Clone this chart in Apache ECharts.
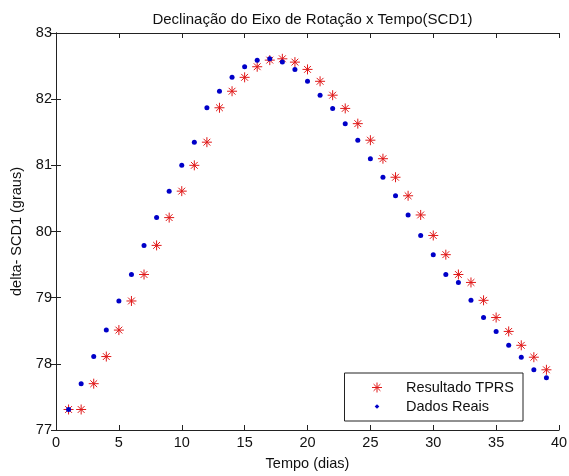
<!DOCTYPE html>
<html>
<head>
<meta charset="utf-8">
<script src="https://cdn.jsdelivr.net/npm/echarts@6/dist/echarts.min.js"></script>
<style>html,body{margin:0;padding:0;background:#fff}#c{width:569px;height:476px}</style>
</head>
<body>
<div id="c"></div>
<script>
var days = [1,2,3,4,5,6,7,8,9,10,11,12,13,14,15,16,17,18,19,20,21,22,23,24,25,26,27,28,29,30,31,32,33,34,35,36,37,38,39];
var dadosReais = [77.31,77.70,78.11,78.51,78.95,79.35,79.79,80.21,80.61,81.00,81.35,81.87,82.12,82.33,82.49,82.59,82.61,82.56,82.45,82.27,82.06,81.86,81.63,81.38,81.10,80.82,80.54,80.25,79.94,79.65,79.35,79.23,78.96,78.70,78.49,78.28,78.10,77.91,77.79];
var resultadoTPRS = [77.31,77.31,77.70,78.11,78.51,78.95,79.35,79.79,80.21,80.61,81.00,81.35,81.87,82.12,82.33,82.49,82.59,82.61,82.56,82.45,82.27,82.06,81.86,81.63,81.38,81.10,80.82,80.54,80.25,79.94,79.65,79.35,79.23,78.96,78.70,78.49,78.28,78.10,77.91];
var xTicks = [0,5,10,15,20,25,30,35,40];
var yTicks = [77,78,79,80,81,82,83];

function pairs(xs, ys){ return xs.map(function(x,i){ return [x, ys[i]]; }); }

var starPath = 'path://M5,0 L5,10 M0,5 L10,5 M1.6,1.6 L8.4,8.4 M1.6,8.4 L8.4,1.6';
var dotIcon = 'path://M0,0 M10,10 M5,2.7 L7.3,5 L5,7.3 L2.7,5 Z';
var font = 'Liberation Sans, Arial, sans-serif';
var fs = 14.5;
var chart = echarts.init(document.getElementById('c'), null, {renderer:'canvas'});
var axisCommon = {
  axisLine:{show:true, lineStyle:{color:'#222', width:1}},
  axisTick:{show:true, inside:true, length:5, lineStyle:{color:'#222'}},
  splitLine:{show:false}
};
chart.setOption({
  backgroundColor:'#fff',
  animation:false,
  title:{text:'Declinação do Eixo de Rotação x Tempo(SCD1)', left:307.5, textAlign:'center', top:7,
    textStyle:{fontFamily:font, fontSize:15, fontWeight:'normal', color:'#111'}},
  grid:{left:56, right:10, top:33, bottom:46, containLabel:false, outerBoundsMode:'none'},
  legend:{
    right:46, bottom:55, orient:'vertical',
    backgroundColor:'#fff', borderColor:'#222', borderWidth:1,
    padding:[7,9,7,27], itemWidth:10, itemHeight:10, itemGap:4,
    textStyle:{fontFamily:font, fontSize:fs, color:'#111', padding:[0,0,0,19]},
    data:[
      {name:'Resultado TPRS', itemStyle:{color:'rgba(0,0,0,0)', borderColor:'#e01818', borderWidth:1}},
      {name:'Dados Reais', icon:dotIcon, itemStyle:{color:'#0000c8', borderWidth:0}}
    ]
  },
  xAxis:[
    Object.assign({type:'value', min:0, max:40, interval:5, position:'bottom',
      name:'Tempo (dias)', nameLocation:'middle', nameGap:26,
      nameTextStyle:{fontFamily:font, fontSize:fs, color:'#111'},
      axisLabel:{fontFamily:font, fontSize:fs, color:'#111', margin:5,
        formatter:function(v){ return xTicks.indexOf(v)>=0 ? String(v) : ''; }}}, axisCommon),
    Object.assign({type:'value', min:0, max:40, interval:5, position:'top', axisLabel:{show:false}}, axisCommon)
  ],
  yAxis:[
    Object.assign({type:'value', min:77, max:83, interval:1, position:'left',
      name:'delta- SCD1 (graus)', nameLocation:'middle', nameGap:32,
      nameTextStyle:{fontFamily:font, fontSize:fs, color:'#111'},
      axisLabel:{fontFamily:font, fontSize:fs, color:'#111', margin:4,
        formatter:function(v){ return yTicks.indexOf(v)>=0 ? String(v) : ''; }}}, axisCommon),
    Object.assign({type:'value', min:77, max:83, interval:1, position:'right', axisLabel:{show:false}}, axisCommon)
  ],
  series:[
    {name:'Resultado TPRS', type:'scatter', data:pairs(days, resultadoTPRS),
      symbol:starPath, symbolSize:10,
      itemStyle:{color:'rgba(0,0,0,0)', borderColor:'#e01818', borderWidth:1, opacity:1}},
    {name:'Dados Reais', type:'scatter', data:pairs(days, dadosReais),
      symbol:'circle', symbolSize:5,
      itemStyle:{color:'#0000c8', opacity:1}}
  ]
});
</script>
</body>
</html>
